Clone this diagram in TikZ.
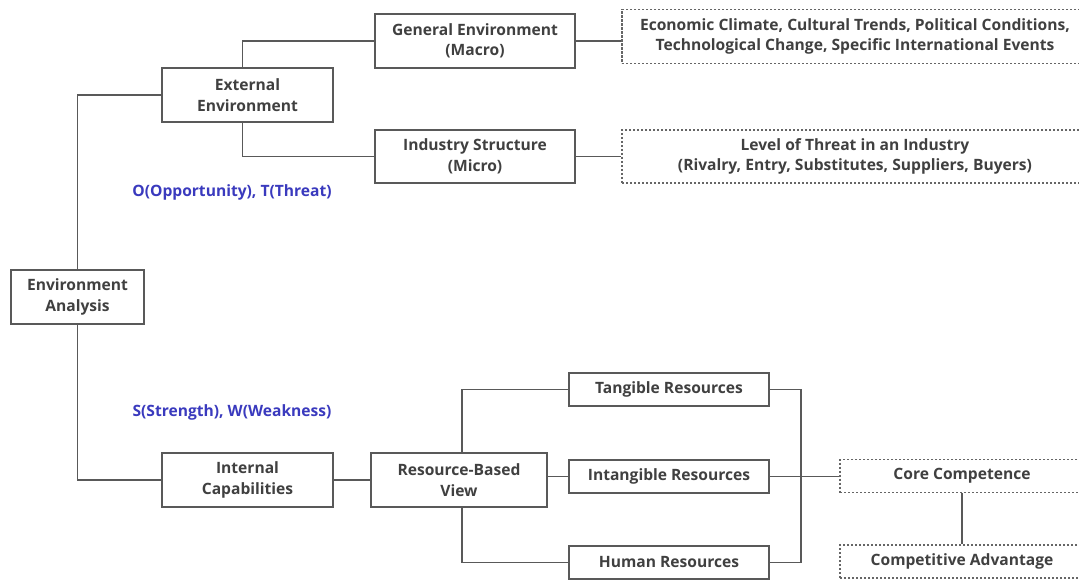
\documentclass[tikz,border=0pt]{standalone}
\usepackage{fontspec}
\setmainfont{Open Sans}
\definecolor{swotblue}{RGB}{58,58,190}
\begin{document}
\begin{tikzpicture}[x=1pt,y=-1pt,
  every node/.style={font=\fontsize{15.6}{20.5}\selectfont\bfseries, text=black!75},
  solidbox/.style={draw=black!65, line width=1.3pt, rectangle, inner sep=0pt, align=center},
  dashbox/.style={draw=black!60, line width=1.1pt, dash pattern=on 2.2pt off 1.8pt, rectangle, inner sep=0pt, align=center},
  link/.style={draw=black!65, line width=1.3pt},
  swot/.style={text=swotblue, font=\fontsize{15.6}{18}\selectfont\bfseries}]
\useasboundingbox (0,0) rectangle (1079,580);
\clip (0,0) rectangle (1079,580);
\fill[white] (0,0) rectangle (1079,580);
% solid boxes
\node[solidbox, minimum width=133pt, minimum height=54pt] (env) at (77.5,297) {Environment\\Analysis};
\node[solidbox, minimum width=171pt, minimum height=54pt] (ext) at (247.5,95) {External\\Environment};
\node[solidbox, minimum width=200pt, minimum height=54pt] (gen) at (475,41) {General Environment\\(Macro)};
\node[solidbox, minimum width=200pt, minimum height=53pt] (ind) at (475,156.5) {Industry Structure\\(Micro)};
\node[solidbox, minimum width=171pt, minimum height=54pt] (int) at (247.5,480) {Internal\\Capabilities};
\node[solidbox, minimum width=176pt, minimum height=54pt] (rbv) at (459,480) {Resource-Based\\View};
\node[solidbox, minimum width=200pt, minimum height=33pt] (tan) at (669,389.5) {Tangible Resources};
\node[solidbox, minimum width=200pt, minimum height=33pt] (intg) at (669,476.5) {Intangible Resources};
\node[solidbox, minimum width=200pt, minimum height=33pt] (hum) at (669,562.5) {Human Resources};
% dashed boxes (run past the right edge)
\node[dashbox, minimum width=466pt, minimum height=54pt] (econ) at (855,36.5) {Economic Climate, Cultural Trends, Political Conditions,\\Technological Change, Specific International Events};
\node[dashbox, minimum width=466pt, minimum height=53pt] (lvl) at (855,156.5) {Level of Threat in an Industry\\(Rivalry, Entry, Substitutes, Suppliers, Buyers)};
\node[dashbox, minimum width=244pt, minimum height=33pt] (core) at (962,476) {Core Competence};
\node[dashbox, minimum width=244pt, minimum height=33pt] (comp) at (962,561.5) {Competitive Advantage};
% labels
\node[swot] (ot) at (232,192) {O(Opportunity), T(Threat)};
\node[swot] (sw) at (232,412) {S(Strength), W(Weakness)};
% connectors
\coordinate (rj) at (801,476.5);
\draw[link] (env.north) |- (ext.west);
\draw[link] ([xshift=-5pt]ext.north) |- (gen.west);
\draw[link] ([xshift=-5pt]ext.south) |- (ind.west);
\draw[link] (gen.east) -- (gen.east -| econ.west);
\draw[link] (ind.east) -- (lvl.west);
\draw[link] (env.south) |- (int.west);
\draw[link] (int.east) -- (rbv.west);
\draw[link] ([xshift=3pt]rbv.north) |- (tan.west);
\draw[link] ([xshift=3pt]rbv.south) |- (hum.west);
\draw[link] (rbv.east |- intg.west) -- (intg.west);
\draw[link] (tan.east) -| (rj) |- (hum.east);
\draw[link] (intg.east) -- (intg.east -| core.west);
\draw[link] (core.south) -- (comp.north);
\end{tikzpicture}
\end{document}
